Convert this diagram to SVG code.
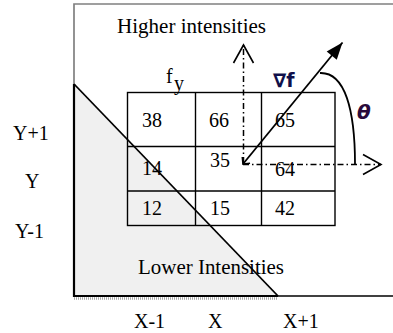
<svg xmlns="http://www.w3.org/2000/svg" width="393" height="333" viewBox="0 0 393 333">
<style>
.t{font-family:"Liberation Serif","Times New Roman",serif;font-size:20px;fill:#000}
.grid{fill:none;stroke:#000;stroke-width:1.4}
.dd{fill:none;stroke:#000;stroke-width:1.5;stroke-dasharray:6,3,1.5,3}
.solid{fill:none;stroke:#000;stroke-width:1.8}
</style>
<defs>
<marker id="openV" viewBox="0 0 18 20" refX="18" refY="10" markerWidth="18" markerHeight="20" markerUnits="userSpaceOnUse" orient="auto" overflow="visible">
<path d="M0,0 L18,10 L0,20" fill="none" stroke="#000" stroke-width="1.6"/>
</marker>
<marker id="filled" viewBox="0 0 17 13" refX="17" refY="6.5" markerWidth="17" markerHeight="13" markerUnits="userSpaceOnUse" orient="auto" overflow="visible">
<path d="M0,0 L17,6.5 L0,13 z" fill="#000"/>
</marker>
<marker id="small" viewBox="0 0 6 10" refX="5" refY="5" markerWidth="6" markerHeight="10" markerUnits="userSpaceOnUse" orient="auto-start-reverse" overflow="visible">
<path d="M0,0 L5,5 L0,10" fill="none" stroke="#000" stroke-width="1.6"/>
</marker>
</defs>
<rect width="393" height="333" fill="#fff"/>
<g id="frame">
<path d="M74,84 V4 H393" fill="none" stroke="#808080" stroke-width="1.7"/>
<line x1="74" y1="298.5" x2="278" y2="298.5" stroke="#a8a8a8" stroke-width="2.5" stroke-dasharray="1,1"/>
<polygon points="74,84 74,296 278,296" fill="#f0f0f0"/>
<path d="M74,84 V296 H278" fill="none" stroke="#000" stroke-width="2.2"/>
<line x1="74" y1="84" x2="278" y2="296" stroke="#000" stroke-width="1.8"/>
<line x1="278" y1="296" x2="393" y2="296" stroke="#000" stroke-width="1.3"/>
</g>
<g id="grid">
<rect x="127.5" y="92.5" width="207.5" height="133" class="grid"/>
<line x1="195.5" y1="92.5" x2="195.5" y2="225.5" class="grid"/>
<line x1="261.5" y1="92.5" x2="261.5" y2="225.5" class="grid"/>
<line x1="127.5" y1="146.5" x2="335" y2="146.5" class="grid"/>
<line x1="127.5" y1="191" x2="335" y2="191" class="grid"/>
<text class="t" x="142" y="127">38</text>
<text class="t" x="209" y="127">66</text>
<text class="t" x="275" y="127">65</text>
<text class="t" x="142" y="175">14</text>
<text class="t" x="210" y="167">35</text>
<text class="t" x="275" y="176">64</text>
<text class="t" x="142" y="215">12</text>
<text class="t" x="210" y="215">15</text>
<text class="t" x="275" y="215">42</text>
</g>
<g id="connectors">
<line x1="243.5" y1="163" x2="243.5" y2="45" class="dd" marker-end="url(#openV)"/>
<line x1="243" y1="164.5" x2="381" y2="164.5" class="dd" marker-end="url(#openV)"/>
<line x1="243" y1="164" x2="342.5" y2="42.5" class="solid" marker-start="url(#small)" marker-end="url(#filled)"/>
<path d="M320,73 C345,72 355,110 355,164" class="solid"/>
</g>
<g id="labels">
<text class="t" x="117" y="33" textLength="149" lengthAdjust="spacingAndGlyphs">Higher intensities</text>
<text class="t" x="138" y="274" textLength="146" lengthAdjust="spacingAndGlyphs">Lower Intensities</text>
<text class="t" x="166" y="83">f</text>
<text class="t" x="174" y="90">y</text>
<text x="273" y="87" style="font-family:'DejaVu Sans',sans-serif;font-size:19px;font-weight:bold;fill:#10104a">∇f</text>
<text x="357" y="119" style="font-family:'DejaVu Sans',sans-serif;font-size:20px;font-weight:bold;font-style:italic;fill:#2a0a3a">θ</text>
<text class="t" x="13" y="140">Y+1</text>
<text class="t" x="25" y="188">Y</text>
<text class="t" x="15" y="238">Y-1</text>
<text class="t" x="134" y="328">X-1</text>
<text class="t" x="208" y="328">X</text>
<text class="t" x="283" y="328">X+1</text>
</g>
</svg>
